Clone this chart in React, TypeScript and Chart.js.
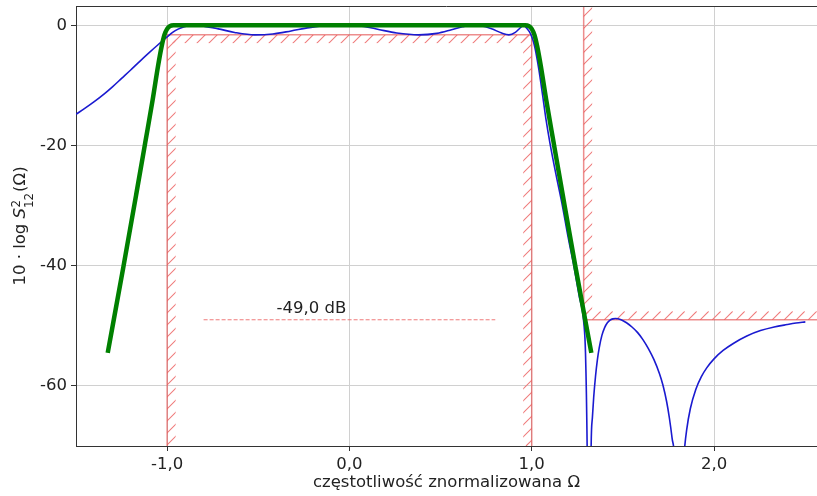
import React, { useEffect, useRef } from 'react';
import { Chart, registerables } from 'chart.js';

Chart.register(...registerables);

// ---------- data ----------
const blueX = [
  -1.5, -1.45, -1.4, -1.35, -1.3, -1.25, -1.2, -1.15, -1.1, -1.05, -1.0, -0.97, -0.94, -0.91, -0.88,
  -0.85, -0.8, -0.72, -0.63, -0.52, -0.42, -0.32, -0.22, -0.12, -0.05, 0.02, 0.08, 0.16, 0.26, 0.38,
  0.48, 0.56, 0.62, 0.67, 0.72, 0.78, 0.835, 0.875, 0.91, 0.935, 0.955, 0.975, 0.993, 1.01, 1.024, 1.04,
  1.053, 1.066, 1.079, 1.1, 1.135, 1.165, 1.2, 1.232, 1.26, 1.286, 1.295, 1.304, 1.315, 1.326, 1.333,
  1.34, 1.35, 1.36, 1.37, 1.385, 1.4, 1.415, 1.43, 1.445, 1.46, 1.49, 1.52, 1.55, 1.58, 1.61, 1.64,
  1.67, 1.7, 1.72, 1.74, 1.755, 1.77, 1.785, 1.807, 1.83, 1.838, 1.85, 1.87, 1.9, 1.93, 1.96, 2.0,
  2.05, 2.108, 2.18, 2.255, 2.33, 2.401, 2.45, 2.501,
];
const blueY = [
  -14.8, -13.8, -12.72, -11.55, -10.25, -8.85, -7.45, -6.0, -4.6, -3.25, -1.95, -1.2, -0.65, -0.28, -0.07,
  0, -0.15, -0.6, -1.2, -1.6, -1.45, -0.95, -0.4, -0.05, 0, -0.05, -0.2, -0.7, -1.3, -1.6,
  -1.35, -0.75, -0.25, 0, -0.1, -0.6, -1.3, -1.6, -1.2, -0.5, -0.05, -0.6, -1.4, -2.8, -4.7, -7.5,
  -10.2, -13, -15.8, -19.6, -25.1, -29.5, -35.3, -40.2, -45, -49.6, -54.5, -70, -110, -70, -65.2,
  -61.9, -58.4, -55.7, -53.7, -51.6, -50.3, -49.5, -49.05, -48.85, -48.8, -49.0, -49.5, -50.2, -51.1, -52.3, -53.8,
  -55.6, -57.9, -59.9, -62.6, -65.3, -68.7, -73.5, -110, -73.5, -70.5, -67.3, -63.8, -60.6, -58.5, -57.0, -55.5,
  -54.1, -52.9, -51.7, -50.8, -50.2, -49.8, -49.55, -49.35,
];

const greenX = [
  -1.326, -1.24, -1.17, -1.12, -1.08, -1.05, -1.03, -1.015, -1.0, -0.985, -0.965,
  0.965, 0.985, 1.0, 1.015, 1.03, 1.05, 1.08, 1.12, 1.17, 1.24, 1.327,
];
const greenY = [
  -54.5, -40.2, -28.2, -19.5, -12.5, -6.8, -3.5, -1.6, -0.6, -0.15, 0,
  0, -0.15, -0.6, -1.6, -3.5, -6.8, -12.5, -19.5, -28.2, -40.2, -54.5,
];

// tolerance masks (polyline, hatching on the right-hand side of travel)
const passMaskX = [-1, -1, 1, 1];
const passMaskY = [-80, -1.6, -1.6, -80];
const stopMaskX = [2.8, 1.285, 1.285];
const stopMaskY = [-49, -49, 10];

const refLineX = [-0.8, 0.8];
const refLineY = [-49, -49];
const refLabel = '-49,0 dB';
const refLabelX = -0.4;
const refLabelY = -47.9;

const xTicks = [-1, 0, 1, 2];
const xTickLabels = ['-1,0', '0,0', '1,0', '2,0'];
const yTicks = [-60, -40, -20, 0];

const xTitle = 'częstotliwość znormalizowana Ω';

// ---------- styling ----------
const FAMILY = '"DejaVu Sans", sans-serif';
const FS = 16.5;
const TEXT = '#222222';
const RED_LINE = 'rgba(228, 80, 80, 0.65)';
const RED_HATCH = 'rgb(240, 125, 125)';

const toPts = (xs: number[], ys: number[]) => xs.map((x, i) => ({ x, y: ys[i] }));

const hatchPlugin = {
  id: 'hatchMask',
  beforeDatasetsDraw(chart: any) {
    const { ctx, chartArea: a } = chart;
    const xs = chart.scales.x;
    const ys = chart.scales.y;
    const W = 8.5;
    const S = 12;
    const masks = [
      [passMaskX, passMaskY],
      [stopMaskX, stopMaskY],
    ];
    for (const [mx, my] of masks) {
      for (let i = 0; i < mx.length - 1; i++) {
        const x1 = xs.getPixelForValue(mx[i]);
        const y1 = ys.getPixelForValue(my[i]);
        const x2 = xs.getPixelForValue(mx[i + 1]);
        const y2 = ys.getPixelForValue(my[i + 1]);
        const dx = Math.sign(x2 - x1);
        const dy = Math.sign(y2 - y1);
        const nx = -dy;
        const ny = dx;
        const px = [x1, x2, x1 + nx * W, x2 + nx * W];
        const py = [y1, y2, y1 + ny * W, y2 + ny * W];
        const L = Math.max(Math.min(...px), a.left);
        const R = Math.min(Math.max(...px), a.right);
        const T = Math.max(Math.min(...py), a.top);
        const B = Math.min(Math.max(...py), a.bottom);
        if (R <= L || B <= T) continue;
        ctx.save();
        ctx.beginPath();
        ctx.rect(L, T, R - L, B - T);
        ctx.clip();
        ctx.strokeStyle = RED_HATCH;
        ctx.lineWidth = 1.1;
        ctx.setLineDash([]);
        ctx.globalAlpha = 1;
        ctx.beginPath();
        const c0 = Math.floor((L + T) / S) * S;
        for (let c = c0; c <= R + B + S; c += S) {
          ctx.moveTo(c - B, B);
          ctx.lineTo(c - T, T);
        }
        ctx.stroke();
        ctx.restore();
      }
    }
  },
};

const overlayPlugin = {
  id: 'overlay',
  afterDatasetsDraw(chart: any) {
    const { ctx, chartArea: a } = chart;
    const xs = chart.scales.x;
    const ys = chart.scales.y;
    ctx.save();
    ctx.strokeStyle = '#333333';
    ctx.lineWidth = 1;
    ctx.setLineDash([]);
    ctx.beginPath();
    ctx.moveTo(a.left, Math.round(a.top) + 0.5);
    ctx.lineTo(a.right, Math.round(a.top) + 0.5);
    ctx.stroke();
    ctx.fillStyle = TEXT;
    ctx.font = `${FS}px ${FAMILY}`;
    ctx.textAlign = 'left';
    ctx.textBaseline = 'alphabetic';
    ctx.fillText(refLabel, xs.getPixelForValue(refLabelX), ys.getPixelForValue(refLabelY));
    ctx.restore();
  },
};

const yTitlePlugin = {
  id: 'yTitle',
  afterDraw(chart: any) {
    const { ctx, chartArea: a } = chart;
    const cy = (a.top + a.bottom) / 2;
    const normal = `${FS}px ${FAMILY}`;
    const italic = `italic ${FS}px ${FAMILY}`;
    const small = `${FS * 0.72}px ${FAMILY}`;
    const t1 = '10 · log ';
    const tS = 'S';
    const tSup = '2';
    const tSub = '12';
    const t3 = '(Ω)';
    ctx.save();
    ctx.font = normal;
    const w1 = ctx.measureText(t1).width;
    const w3 = ctx.measureText(t3).width;
    ctx.font = italic;
    const wS = ctx.measureText(tS).width;
    ctx.font = small;
    const wSup = ctx.measureText(tSup).width;
    const wSub = ctx.measureText(tSub).width;
    const wScr = Math.max(wSup, wSub) + 1;
    const total = w1 + wS + wScr + w3;
    ctx.translate(25, cy);
    ctx.rotate(-Math.PI / 2);
    ctx.fillStyle = TEXT;
    ctx.textBaseline = 'alphabetic';
    ctx.textAlign = 'left';
    let x = -total / 2;
    ctx.font = normal;
    ctx.fillText(t1, x, 0);
    x += w1;
    ctx.font = italic;
    ctx.fillText(tS, x, 0);
    x += wS;
    ctx.font = small;
    ctx.fillText(tSup, x + 0.5, -5.5);
    ctx.fillText(tSub, x, 7.5);
    x += wScr;
    ctx.font = normal;
    ctx.fillText(t3, x, 0);
    ctx.restore();
  },
};

export default function App() {
  const ref = useRef<HTMLCanvasElement>(null);
  useEffect(() => {
    document.body.style.margin = '0';
    const canvas = ref.current;
    if (!canvas) return;
    const chart = new Chart(canvas, {
      type: 'line',
      data: {
        datasets: [
          {
            label: 'approx',
            data: toPts(greenX, greenY),
            borderColor: '#008000',
            borderWidth: 4.5,
            pointRadius: 0,
            cubicInterpolationMode: 'monotone',
            borderCapStyle: 'butt',
            borderJoinStyle: 'round',
          },
          {
            label: 'S12',
            data: toPts(blueX, blueY),
            borderColor: '#1a1ad0',
            borderWidth: 1.6,
            pointRadius: 0,
            cubicInterpolationMode: 'monotone',
          },
          {
            label: 'pass mask',
            data: toPts(passMaskX, passMaskY),
            borderColor: RED_LINE,
            borderWidth: 1.5,
            pointRadius: 0,
            tension: 0,
          },
          {
            label: 'stop mask',
            data: toPts(stopMaskX, stopMaskY),
            borderColor: RED_LINE,
            borderWidth: 1.5,
            pointRadius: 0,
            tension: 0,
          },
          {
            label: 'ref',
            data: toPts(refLineX, refLineY),
            borderColor: 'rgba(236, 100, 100, 0.85)',
            borderWidth: 1.2,
            borderDash: [4, 2],
            pointRadius: 0,
            tension: 0,
          },
        ],
      } as any,
      options: {
        animation: false,
        responsive: false,
        devicePixelRatio: 1,
        layout: { padding: { top: 6, left: 0, right: 0, bottom: 0 } },
        plugins: {
          legend: { display: false },
          tooltip: { enabled: false },
        },
        scales: {
          x: {
            type: 'linear',
            min: -1.5,
            max: 2.565,
            afterBuildTicks: (s: any) => {
              s.ticks = xTicks.map((v) => ({ value: v }));
            },
            afterFit: (s: any) => {
              s.height = 50;
              s.paddingLeft = 0;
              s.paddingRight = 0;
            },
            ticks: {
              callback: (v: any) => {
                const i = xTicks.indexOf(Number(v));
                return i >= 0 ? xTickLabels[i] : '';
              },
              font: { family: FAMILY, size: FS },
              color: TEXT,
              padding: 4,
              maxRotation: 0,
              autoSkip: false,
            },
            grid: { color: '#d0d0d0', lineWidth: 1, tickColor: '#333333', tickLength: 5 },
            border: { color: '#333333', width: 1 },
            title: {
              display: true,
              text: xTitle,
              font: { family: FAMILY, size: FS },
              color: TEXT,
              padding: { top: 0, bottom: 3 },
            },
          },
          y: {
            type: 'linear',
            min: -70,
            max: 3.2,
            afterBuildTicks: (s: any) => {
              s.ticks = yTicks.map((v) => ({ value: v }));
            },
            afterFit: (s: any) => {
              s.width = 76;
              s.paddingTop = 0;
              s.paddingBottom = 0;
            },
            ticks: {
              callback: (v: any) => String(v),
              font: { family: FAMILY, size: FS },
              color: TEXT,
              padding: 4,
              autoSkip: false,
            },
            grid: { color: '#d0d0d0', lineWidth: 1, tickColor: '#333333', tickLength: 5 },
            border: { color: '#333333', width: 1 },
          },
        },
      } as any,
      plugins: [hatchPlugin, overlayPlugin, yTitlePlugin],
    });
    return () => chart.destroy();
  }, []);
  return (
    <div style={{ width: 817, height: 496 }}>
      <canvas ref={ref} width={817} height={496} style={{ display: 'block' }} />
    </div>
  );
}
